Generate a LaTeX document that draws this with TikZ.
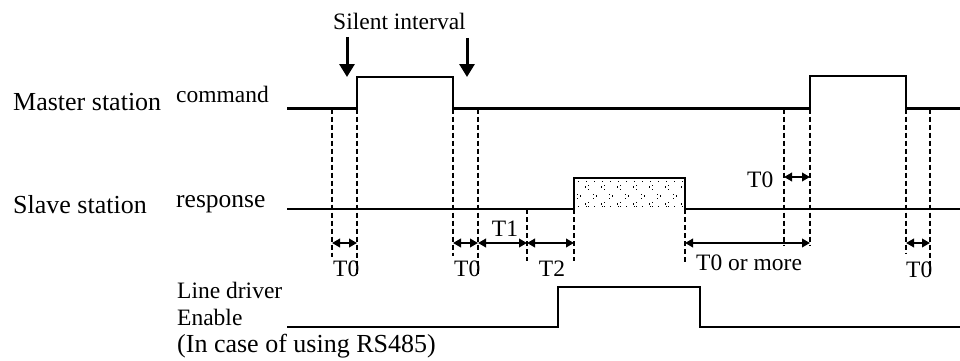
\documentclass[tikz,border=0pt]{standalone}
\usepackage{fontspec}
\setmainfont{Liberation Serif}
\usetikzlibrary{arrows.meta}
\begin{document}
\begin{tikzpicture}[x=1pt,y=-1pt,
  sig/.style={line width=2.6pt, line join=miter},
  dsh/.style={line width=1.1pt, dash pattern=on 5pt off 3pt},
  dimarrow/.style={line width=2.4pt, {Triangle[length=8pt,width=8.5pt]}-{Triangle[length=8pt,width=8.5pt]}},
  downarrow/.style={line width=3pt, -{Triangle[length=13pt,width=15pt]}},
  lbl/.style={inner sep=0pt, font=\fontsize{23.5}{28}\selectfont},
  biglbl/.style={inner sep=0pt, font=\fontsize{26}{30}\selectfont},
  dotsq/.style={fill=black}
]
\useasboundingbox (0,0) rectangle (960,361);

% levels
\def\M{108.5}
\def\S{209}

% hatch pattern of slave response
\foreach \k in {0,...,6}{
  \pgfmathsetmacro\cx{586+16*\k}
  \foreach \cy in {187,204}{
    \fill[dotsq] (\cx+1.5,\cy-2.5) rectangle ++(1.4,1.4);
    \fill[dotsq] (\cx-1.5,\cy-0.7) rectangle ++(1.4,1.4);
    \fill[dotsq] (\cx+1.5,\cy+1.5) rectangle ++(1.4,1.4);
  }
}
\foreach \k in {0,...,6}{
  \pgfmathsetmacro\cx{578+16*\k}
  \fill[dotsq] (\cx-1.5,193.5) rectangle ++(1.4,1.4);
  \fill[dotsq] (\cx+1.5,196-0.7) rectangle ++(1.4,1.4);
  \fill[dotsq] (\cx-1.5,197.5) rectangle ++(1.4,1.4);
}
\foreach \k in {0,...,13}{
  \fill[dotsq] (578+8*\k,180.5) rectangle ++(1.4,1.4);
  \fill[dotsq] (578+8*\k,205.8) rectangle ++(1.4,1.4);
}

% signals
\draw[sig] (287,\M) -- (357,\M) -- (357,77) -- (453,77) -- (453,\M) -- (810,\M)
  -- (810,76) -- (906,76) -- (906,\M) -- (960,\M);
\draw[sig] (287,\S) -- (574,\S) -- (574,178) -- (685,178) -- (685,\S) -- (960,\S);
\draw[sig] (287,327) -- (558,327) -- (558,287) -- (700,287) -- (700,327) -- (960,327);

% dashed guide lines
\coordinate (a1) at (332,\M); \coordinate (a2) at (332,257);
\coordinate (b1) at (357,\M); \coordinate (b2) at (357,276);
\coordinate (c1) at (453,\M); \coordinate (c2) at (453,256);
\coordinate (d1) at (478,\M); \coordinate (d2) at (478,276);
\coordinate (e1) at (527,\S); \coordinate (e2) at (527,261);
\coordinate (f1) at (574,\S); \coordinate (f2) at (574,261);
\coordinate (g1) at (685,\S); \coordinate (g2) at (685,263);
\coordinate (h1) at (784,\M); \coordinate (h2) at (784,246);
\coordinate (i1) at (810,\M); \coordinate (i2) at (810,246);
\coordinate (j1) at (906,\M); \coordinate (j2) at (906,254);
\coordinate (k1) at (930,\M); \coordinate (k2) at (930,276);
\foreach \p in {a,b,c,d,e,f,g,h,i,j,k}{
  \draw[dsh] (\p1) -- (\p2);
}

% dimension arrows
\coordinate (t0al) at (332,243); \coordinate (t0ar) at (357,243);
\coordinate (t0bl) at (453,243); \coordinate (t0br) at (478,243);
\coordinate (t1r) at (527,243);
\coordinate (t2r) at (574,243);
\coordinate (tml) at (685,243); \coordinate (tmr) at (810,243);
\coordinate (t0cl) at (784,177); \coordinate (t0cr) at (810,177);
\coordinate (t0dl) at (906,243); \coordinate (t0dr) at (930,243);
\draw[dimarrow] (t0al) -- (t0ar);
\draw[dimarrow] (t0bl) -- (t0br);
\draw[dimarrow] (t0br) -- (t1r);
\draw[dimarrow] (t1r) -- (t2r);
\draw[dimarrow] (tml) -- (tmr);
\draw[dimarrow] (t0cl) -- (t0cr);
\draw[dimarrow] (t0dl) -- (t0dr);

% silent interval arrows
\coordinate (s1a) at (347,37); \coordinate (s1b) at (347,77);
\coordinate (s2a) at (467,38); \coordinate (s2b) at (467,77);
\draw[downarrow] (s1a) -- (s1b);
\draw[downarrow] (s2a) -- (s2b);

% labels
\node[lbl, anchor=base west] (silent) at (333,30) {Silent interval};
\node[biglbl, anchor=base west] (master) at (13,110) {Master station};
\node[lbl, anchor=base west] (cmd) at (176,102) {command};
\node[biglbl, anchor=base west] (slave) at (13,213) {Slave station};
\node[inner sep=0pt, font=\fontsize{25.5}{30}\selectfont, anchor=base west] (resp) at (176,207) {response};
\node[lbl, anchor=base west] (ld1) at (177,298) {Line driver};
\node[lbl, anchor=base west] (ld2) at (177,325) {Enable};
\node[biglbl, anchor=base west] (ld3) at (177,352) {(In case of using RS485)};

\node[lbl, anchor=base west] (l0a) at (333,276) {T0};
\node[lbl, anchor=base west] (l0b) at (454,276) {T0};
\node[lbl, anchor=base] (l1) at (505,236) {T1};
\node[lbl, anchor=base] (l2) at (552,276) {T2};
\node[lbl, anchor=base west] (lm) at (696,270) {T0 or more};
\node[lbl, anchor=base west] (l0c) at (747,187) {T0};
\node[lbl, anchor=base west] (l0d) at (906,277) {T0};
\end{tikzpicture}
\end{document}
